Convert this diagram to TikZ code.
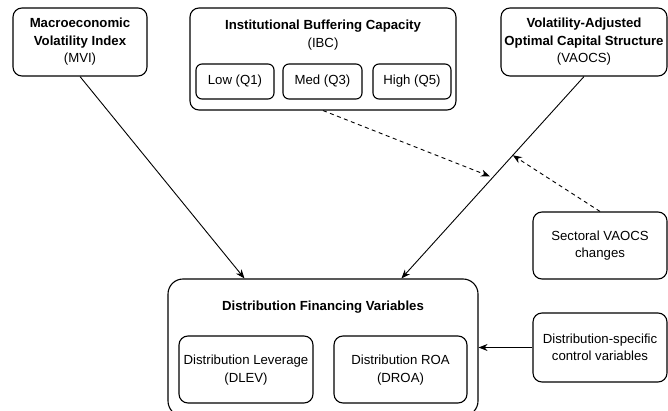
\documentclass[tikz,border=0pt]{standalone}
\usepackage{fontspec}
\setmainfont{Liberation Sans}
\usetikzlibrary{arrows.meta,calc}
\begin{document}
\begin{tikzpicture}[x=1pt,y=-1pt,
  box/.style={draw=black,line width=1.1pt,rounded corners=9pt,inner sep=0pt},
  smallbox/.style={draw=black,line width=1.1pt,rounded corners=6pt,inner sep=0pt},
  txt/.style={font=\fontsize{13.2}{17.5}\selectfont,align=center,inner sep=0pt},
  arr/.style={line width=0.9pt,-{Stealth[length=9pt,width=7pt]}},
  darr/.style={arr,dash pattern=on 4pt off 3.5pt}]
\useasboundingbox[fill=white] (0,0) rectangle (668,411);
% top boxes
\node[box,minimum width=134pt,minimum height=68pt] (mvi) at (80,42) {};
\node[txt] (mvit) at (80,42) {\textbf{Macroeconomic}\\\textbf{Volatility Index}\\(MVI)};
\node[box,minimum width=266pt,minimum height=102pt] (ibc) at (323,59) {};
\node[txt] (ibct) at (323,35) {\textbf{Institutional Buffering Capacity}\\(IBC)};
\node[smallbox,minimum width=78pt,minimum height=35pt] (low) at (235,81.5) {};
\node[txt] (lowt) at (235,81.5) {Low (Q1)};
\node[smallbox,minimum width=79pt,minimum height=35pt] (med) at (322.5,81.5) {};
\node[txt] (medt) at (322.5,81.5) {Med (Q3)};
\node[smallbox,minimum width=78pt,minimum height=35pt] (high) at (412,81.5) {};
\node[txt] (hight) at (412,81.5) {High (Q5)};
\node[box,minimum width=166pt,minimum height=68pt] (vaocs) at (584,42) {};
\node[txt] (vaocst) at (584,42) {\textbf{Volatility-Adjusted}\\\textbf{Optimal Capital Structure}\\(VAOCS)};
% right boxes
\node[box,minimum width=134pt,minimum height=67pt] (sect) at (600,245.5) {};
\node[txt] (sectt) at (600,245.5) {Sectoral VAOCS\\changes};
\node[box,minimum width=134pt,minimum height=69pt] (ctrl) at (600,347.5) {};
\node[txt] (ctrlt) at (600,347.5) {Distribution-specific\\control variables};
% bottom group
\node[box,rounded corners=15pt,minimum width=310pt,minimum height=137pt] (dfv) at (323,347.5) {};
\node[txt] (dfvt) at (323,307) {\textbf{Distribution Financing Variables}};
\node[smallbox,rounded corners=9pt,minimum width=134pt,minimum height=67pt] (dlev) at (246,369.5) {};
\node[txt] (dlevt) at (246,370) {Distribution Leverage\\(DLEV)};
\node[smallbox,rounded corners=9pt,minimum width=133pt,minimum height=67pt] (droa) at (400.5,369.5) {};
\node[txt] (droat) at (400.5,370) {Distribution ROA\\(DROA)};
% connector points
\coordinate (t1) at ($(dfv.north west)+(77,0)$);
\coordinate (t2) at ($(dfv.north west)+(234,0)$);
\coordinate (m1) at ($(vaocs.south)!0.50!(t2)$);
\coordinate (m2) at ($(vaocs.south)!0.39!(t2)$);
% connectors
\draw[arr] (mvi.south) -- (t1);
\draw[arr] (vaocs.south) -- (t2);
\draw[darr,shorten >=3pt] (ibc.south) -- (m1);
\draw[darr] (sect.north) -- (m2);
\draw[arr] (ctrl.west) -- (ctrl.west -| dfv.east);
\end{tikzpicture}
\end{document}
